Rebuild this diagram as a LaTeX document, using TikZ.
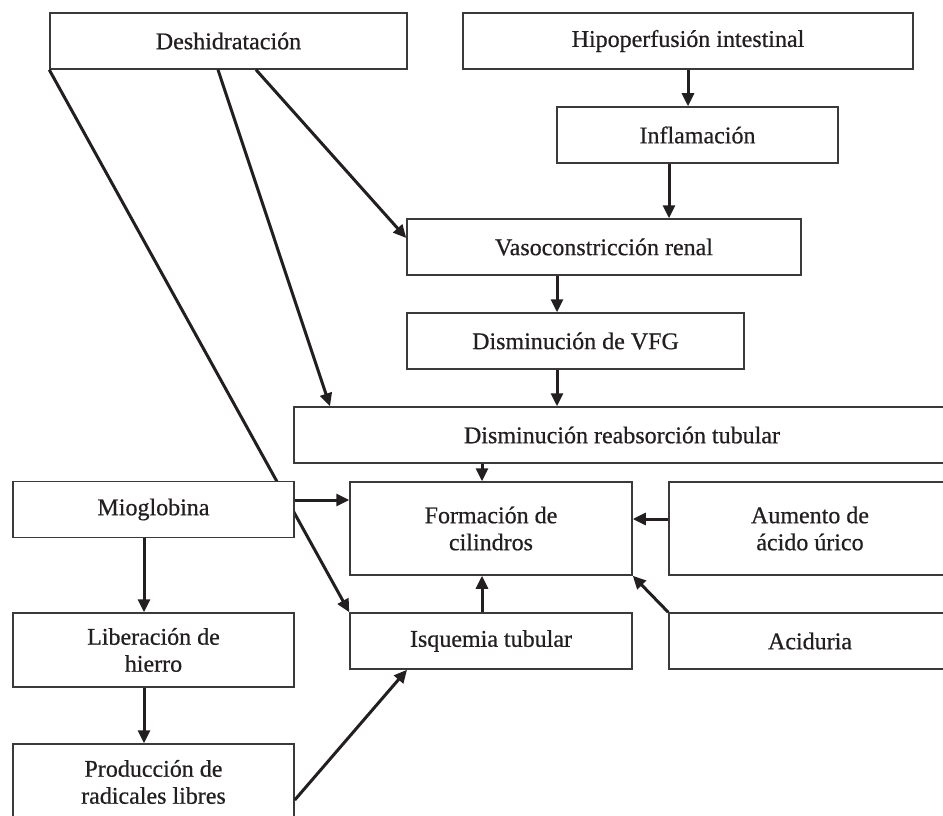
\documentclass[tikz,border=0pt]{standalone}
\usepackage{fontspec}
\setmainfont{Liberation Serif}
\newfontfamily\boxfont[FakeBold=0.6]{Liberation Serif}
\usetikzlibrary{arrows.meta}
\definecolor{boxcol}{HTML}{3A3A3A}
\definecolor{arrcol}{HTML}{231F20}
\definecolor{txtcol}{HTML}{231F20}
\begin{document}
\begin{tikzpicture}[x=1pt,y=-1pt,
  box/.style={draw=boxcol, line width=1.5pt, fill=white, inner sep=0pt, align=center,
    font=\boxfont\fontsize{24}{27}\selectfont, text=txtcol},
  arr/.style={draw=arrcol, line width=3pt, -{Triangle[length=13pt,width=12pt]}},
]
\fill[white] (0,0) rectangle (943,816);
\clip (0,0) rectangle (943,816);

\node[box, minimum width=357pt, minimum height=56pt] (desh) at (228.5,41) {Deshidratación};
\node[box, minimum width=450pt, minimum height=56pt] (hipo) at (688,41) {Hipoperfusión intestinal};
\node[box, minimum width=281pt, minimum height=56pt] (infl) at (697.5,135) {Inflamación};
\node[box, minimum width=394pt, minimum height=56pt] (vaso) at (604,247) {Vasoconstricción renal};
\node[box, minimum width=337pt, minimum height=56pt] (vfg) at (575.5,341) {Disminución de VFG};
\node[box, minimum width=656pt, minimum height=56pt] (reab) at (622,435) {Disminución reabsorción tubular};
\node[box, minimum width=282pt, minimum height=93pt] (form) at (491,528.5) {Formación de\\cilindros};
\node[box, minimum width=282pt, minimum height=93pt] (aum) at (810,528.5) {Aumento de\\ácido úrico};
\node[box, minimum width=282pt, minimum height=56pt] (isq) at (491,641) {Isquemia tubular};
\node[box, minimum width=282pt, minimum height=56pt] (aci) at (810,641) {Aciduria};
\node[box, minimum width=281pt, minimum height=74pt] (lib) at (153.5,650) {Liberación de\\hierro};
\node[box, minimum width=281pt, minimum height=76pt] (prod) at (153.5,782) {Producción de\\radicales libres};

% long connector passing behind Mioglobina
\draw[arr] (desh.south west) -- (isq.north west);

\node[box, minimum width=281pt, minimum height=56pt] (mio) at (153.5,509.5) {Mioglobina};

\draw[arr] (hipo.south) -- (hipo.south |- infl.north);
\draw[arr] ([xshift=-28.5pt]infl.south) -- ([xshift=-28.5pt]infl.south |- vaso.north);
\draw[arr] ([xshift=-47pt]vaso.south) -- ([xshift=-47pt]vaso.south |- vfg.north);
\draw[arr] ([xshift=-18.5pt]vfg.south) -- ([xshift=-18.5pt]vfg.south |- reab.north);
\draw[arr] ([xshift=-9pt]form.north |- reab.south) -- ([xshift=-9pt]form.north);
\draw[arr] ([xshift=27.5pt]desh.south) -- ([yshift=9pt]vaso.west);
\draw[arr] ([xshift=-10.5pt]desh.south) -- ([xshift=-292pt]reab.north);
\draw[arr] ([yshift=9.5pt]mio.east) -- ([yshift=9.5pt]mio.east -| form.west);
\draw[arr] ([yshift=9.5pt]aum.west) -- ([yshift=9.5pt]aum.west -| form.east);
\draw[arr] ([xshift=-9pt]isq.north) -- ([xshift=-9pt]isq.north |- form.south);
\draw[arr] (aci.north west) -- (form.south east);
\draw[arr] ([xshift=-9.5pt]mio.south) -- ([xshift=-9.5pt]mio.south |- lib.north);
\draw[arr] ([xshift=-9.5pt]lib.south) -- ([xshift=-9.5pt]lib.south |- prod.north);
\draw[arr] ([yshift=-18pt]prod.east) -- ([xshift=-84pt]isq.south);
\end{tikzpicture}
\end{document}
